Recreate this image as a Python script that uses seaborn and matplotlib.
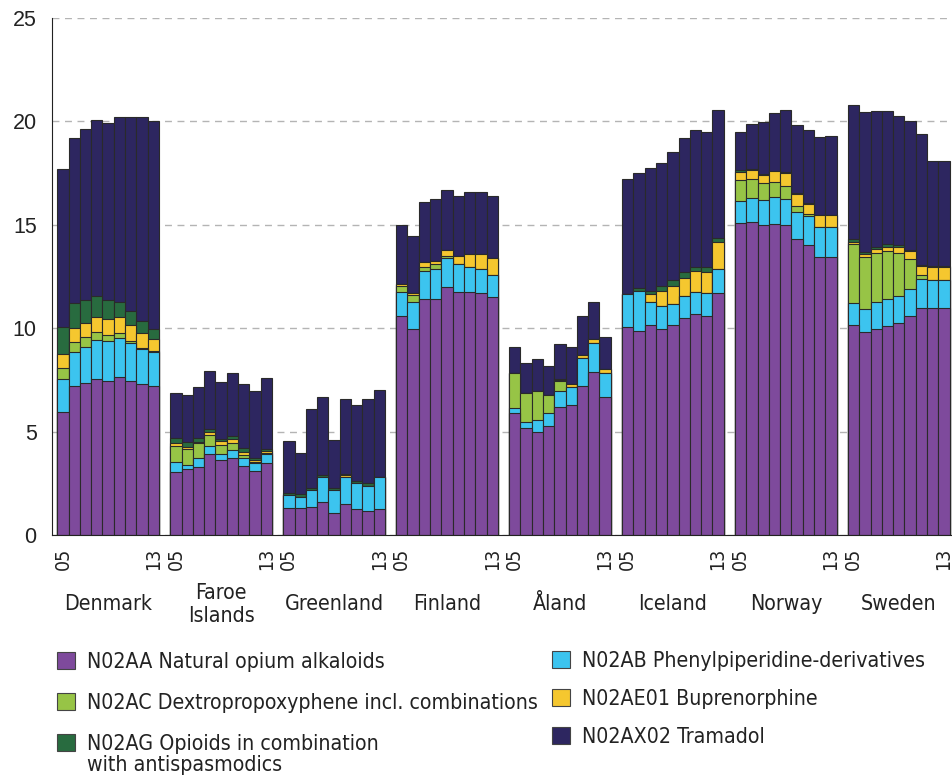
import numpy as np
import pandas as pd
import matplotlib
matplotlib.use("Agg")
import matplotlib.pyplot as plt
import seaborn as sns
from matplotlib.patches import Patch

# countries and years (2005-2013)
countries = ["Denmark", "Faroe\nIslands", "Greenland", "Finland", "Åland", "Iceland", "Norway", "Sweden"]
years = ["05", "06", "07", "08", "09", "10", "11", "12", "13"]

# DDD values per series, 9 years per country (same country order as above)
n02aa = [
    5.97, 7.21, 7.34, 7.53, 7.45, 7.66, 7.45, 7.31, 7.21,
    3.03, 3.19, 3.31, 3.92, 3.63, 3.71, 3.35, 3.10, 3.47,
    1.32, 1.32, 1.37, 1.58, 1.05, 1.48, 1.26, 1.16, 1.26,
    10.60, 9.97, 11.42, 11.42, 11.97, 11.74, 11.74, 11.69, 11.50,
    5.89, 5.16, 5.00, 5.27, 6.18, 6.27, 7.21, 7.87, 6.66,
    10.05, 9.87, 10.16, 9.97, 10.16, 10.48, 10.68, 10.60, 11.69,
    15.08, 15.13, 14.97, 15.03, 14.97, 14.31, 14.00, 13.44, 13.44,
    10.15, 9.81, 9.97, 10.11, 10.27, 10.60, 10.97, 10.97, 10.97,
]
n02ab = [
    1.56, 1.66, 1.77, 1.92, 1.92, 1.89, 1.82, 1.67, 1.66,
    0.49, 0.20, 0.40, 0.40, 0.29, 0.40, 0.39, 0.37, 0.43,
    0.62, 0.53, 0.81, 1.21, 1.13, 1.31, 1.24, 1.21, 1.53,
    1.14, 1.32, 1.35, 1.45, 1.42, 1.36, 1.24, 1.18, 1.06,
    0.27, 0.29, 0.56, 0.62, 0.80, 0.91, 1.37, 1.40, 1.19,
    1.60, 1.95, 1.13, 1.11, 1.02, 1.10, 1.06, 1.09, 1.16,
    1.05, 1.16, 1.24, 1.31, 1.29, 1.30, 1.44, 1.43, 1.43,
    1.09, 1.11, 1.29, 1.29, 1.29, 1.30, 1.40, 1.34, 1.34,
]
n02ac = [
    0.53, 0.48, 0.45, 0.36, 0.28, 0.21, 0.13, 0.05, 0.05,
    0.80, 0.76, 0.73, 0.52, 0.43, 0.33, 0.13, 0.05, 0.08,
    0.00, 0.00, 0.00, 0.00, 0.00, 0.00, 0.00, 0.00, 0.00,
    0.31, 0.32, 0.21, 0.23, 0.09, 0.02, 0.00, 0.00, 0.00,
    1.69, 1.44, 1.42, 0.88, 0.47, 0.00, 0.00, 0.00, 0.00,
    0.00, 0.00, 0.00, 0.00, 0.00, 0.00, 0.00, 0.00, 0.00,
    1.05, 0.94, 0.81, 0.72, 0.64, 0.28, 0.06, 0.00, 0.00,
    2.82, 2.52, 2.37, 2.34, 2.07, 1.44, 0.21, 0.00, 0.00,
]
n02ae01 = [
    0.68, 0.65, 0.71, 0.75, 0.80, 0.80, 0.75, 0.73, 0.58,
    0.12, 0.12, 0.08, 0.16, 0.20, 0.19, 0.16, 0.11, 0.10,
    0.00, 0.00, 0.00, 0.00, 0.00, 0.09, 0.00, 0.00, 0.00,
    0.10, 0.08, 0.20, 0.17, 0.31, 0.38, 0.62, 0.73, 0.83,
    0.00, 0.00, 0.00, 0.00, 0.05, 0.11, 0.10, 0.21, 0.18,
    0.00, 0.00, 0.36, 0.73, 0.88, 0.87, 1.03, 1.05, 1.30,
    0.35, 0.40, 0.40, 0.52, 0.60, 0.61, 0.50, 0.61, 0.61,
    0.09, 0.14, 0.19, 0.21, 0.32, 0.40, 0.45, 0.63, 0.63,
]
n02ag = [
    1.31, 1.24, 1.10, 1.02, 0.92, 0.73, 0.70, 0.61, 0.45,
    0.24, 0.21, 0.16, 0.13, 0.08, 0.16, 0.20, 0.11, 0.10,
    0.09, 0.12, 0.11, 0.10, 0.11, 0.05, 0.10, 0.13, 0.03,
    0.00, 0.00, 0.00, 0.00, 0.00, 0.00, 0.00, 0.00, 0.00,
    0.00, 0.00, 0.00, 0.00, 0.05, 0.00, 0.00, 0.00, 0.00,
    0.00, 0.12, 0.17, 0.21, 0.28, 0.29, 0.21, 0.21, 0.20,
    0.10, 0.06, 0.03, 0.03, 0.03, 0.03, 0.03, 0.00, 0.00,
    0.16, 0.10, 0.13, 0.10, 0.08, 0.05, 0.03, 0.05, 0.05,
]
n02ax02 = [
    7.65, 7.95, 8.28, 8.47, 8.55, 8.92, 9.36, 9.84, 10.05,
    2.17, 2.31, 2.50, 2.79, 2.79, 3.03, 3.08, 3.21, 3.40,
    2.52, 2.01, 3.79, 3.79, 2.31, 3.63, 3.69, 4.08, 4.18,
    2.85, 2.79, 2.90, 3.00, 2.89, 2.89, 2.98, 2.98, 3.00,
    1.26, 1.42, 1.52, 1.42, 1.68, 1.82, 1.92, 1.81, 1.53,
    5.58, 5.56, 5.92, 5.96, 6.18, 6.45, 6.62, 6.53, 6.21,
    1.85, 2.18, 2.52, 2.81, 3.03, 3.28, 3.57, 3.76, 3.83,
    6.46, 6.76, 6.57, 6.47, 6.24, 6.21, 6.33, 5.11, 5.11,
]

# stacking order, bottom to top
series = [
    ("N02AA Natural opium alkaloids", n02aa, "#7e4a9c"),
    ("N02AB Phenylpiperidine-derivatives", n02ab, "#3cc4ef"),
    ("N02AC Dextropropoxyphene incl. combinations", n02ac, "#97c446"),
    ("N02AE01 Buprenorphine", n02ae01, "#f5c72f"),
    ("N02AG Opioids in combination", n02ag, "#286b3f"),
    ("N02AX02 Tramadol", n02ax02, "#2d2660"),
]
ag_second_line = "with antispasmodics"

rows = []
for g, country in enumerate(countries):
    for i, yr in enumerate(years):
        k = g * len(years) + i
        rec = {"country": country, "year": yr, "pos": g * 10 + i}
        total = 0.0
        for j, (name, vals, col) in enumerate(series):
            total += vals[k]
            rec[f"cum{j}"] = total
        rows.append(rec)
df = pd.DataFrame(rows)

sns.set_style("white")
plt.rcParams["font.family"] = ["DejaVu Sans"]
txt_col = "#222222"
fs = 15.3

fig = plt.figure(figsize=(9.53, 7.76), dpi=100)
ax = fig.add_axes([52 / 953, 241 / 776, 901 / 953, 517 / 776])

# draw cumulative totals from the top layer down so each segment shows
for j in range(len(series) - 1, -1, -1):
    sns.barplot(data=df, x="pos", y=f"cum{j}", native_scale=True, width=1,
                color=series[j][2], saturation=1, errorbar=None,
                edgecolor="#2a2a2a", linewidth=0.8, ax=ax)

ax.set_xlim(-0.97, 78.8)
ax.set_ylim(0, 25)
ax.set_yticks([0, 5, 10, 15, 20, 25])
ax.set_axisbelow(True)
ax.yaxis.grid(True, linestyle=(0, (5, 4)), color="#b4b4b4", linewidth=1)
ax.xaxis.grid(False)
sns.despine(ax=ax)
ax.spines["left"].set_color("#222222")
ax.spines["bottom"].set_color("#222222")
ax.set_xlabel("")
ax.set_ylabel("")

# y ticks
ax.tick_params(axis="y", length=5, width=1, color="#444444", pad=6)
for lab in ax.get_yticklabels():
    lab.set_fontfamily("Liberation Sans")
    lab.set_fontsize(15.5)
    lab.set_color(txt_col)

# first and last year under each country
xt, xl = [], []
for g in range(len(countries)):
    xt += [g * 10, g * 10 + len(years) - 1]
    xl += [years[0], years[-1]]
ax.set_xticks(xt)
ax.set_xticklabels(xl, rotation=90, fontsize=14, color=txt_col, fontstretch="condensed")
ax.tick_params(axis="x", length=0, pad=9)

for g, country in enumerate(countries):
    ax.annotate(country, xy=(g * 10 + 4, 0), xycoords=("data", "axes fraction"),
                xytext=(0, -50), textcoords="offset points", ha="center", va="center",
                fontsize=fs, color=txt_col, fontstretch="condensed", linespacing=1.15)

handles = [Patch(facecolor=c, edgecolor="#444444", linewidth=0.8) for _, _, c in series]
labels = [n for n, _, _ in series]
leg_kw = dict(loc="upper left", frameon=False, borderpad=0, borderaxespad=0,
              handlelength=0.85, handleheight=0.85, handletextpad=0.55,
              prop={"size": fs, "stretch": "condensed"})

# left column of the legend
left = [0, 2, 4]
leg1 = fig.legend([handles[o] for o in left], [labels[o] for o in left],
                  bbox_to_anchor=(57 / 953, 1 - 652 / 776), labelspacing=0.98, **leg_kw)
# right column of the legend
right = [1, 3, 5]
leg2 = fig.legend([handles[o] for o in right], [labels[o] for o in right],
                  bbox_to_anchor=(552 / 953, 1 - 651 / 776), labelspacing=0.84, **leg_kw)
for t in leg1.get_texts() + leg2.get_texts():
    t.set_color(txt_col)

# second line of the N02AG entry, under its first line
fig.canvas.draw()
ag_text = leg1.get_texts()[2]
bb = ag_text.get_window_extent().transformed(fig.transFigure.inverted())
fig.text(bb.x0, bb.y0 - 0.0015, ag_second_line, ha="left", va="top",
         fontsize=fs, fontstretch="condensed", color=txt_col)

fig.savefig("out.png", dpi=100)
